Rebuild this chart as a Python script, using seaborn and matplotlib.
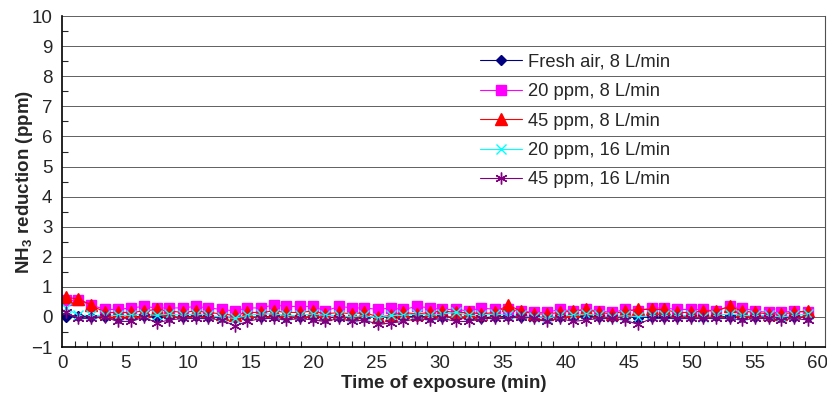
import numpy as np
import pandas as pd
import seaborn as sns
import matplotlib.pyplot as plt
from matplotlib.ticker import MultipleLocator

# время (мин) и снижение NH3 (ppm) для пяти режимов
time_min = [0.3, 1.3, 2.3, 3.4, 4.4, 5.5, 6.5, 7.5, 8.5, 9.6, 10.6, 11.6, 12.7, 13.7, 14.7,
            15.8, 16.8, 17.8, 18.9, 19.9, 20.9, 22.0, 23.0, 24.0, 25.1, 26.1, 27.1, 28.2,
            29.2, 30.2, 31.3, 32.3, 33.3, 34.4, 35.4, 36.4, 37.5, 38.5, 39.5, 40.6, 41.6,
            42.6, 43.7, 44.7, 45.7, 46.8, 47.8, 48.8, 49.9, 50.9, 51.9, 53.0, 54.0, 55.0,
            56.1, 57.1, 58.1, 59.2]

fresh_air_8 = [0.0, 0.02, 0.0, 0.0, -0.02, 0.0, 0.02, 0.0, 0.0, 0.0, 0.02, 0.0, 0.0, -0.02, 0.0,
               0.0, 0.02, 0.0, 0.0, 0.0, -0.02, 0.0, 0.0, 0.0, -0.02, 0.0, 0.0, 0.02, 0.0, 0.0,
               0.0, 0.0, -0.02, 0.0, 0.02, 0.0, 0.0, -0.02, 0.0, 0.0, 0.02, 0.0, 0.0, 0.0,
               -0.02, 0.0, 0.0, 0.0, 0.0, 0.0, 0.02, 0.0, 0.0, 0.0, 0.0, 0.0, 0.0, 0.0]
ppm20_8 = [0.55, 0.55, 0.4, 0.25, 0.25, 0.3, 0.35, 0.3, 0.3, 0.3, 0.35, 0.3, 0.25, 0.2, 0.3,
           0.3, 0.4, 0.35, 0.35, 0.35, 0.2, 0.35, 0.3, 0.3, 0.25, 0.3, 0.25, 0.35, 0.3, 0.25,
           0.25, 0.2, 0.3, 0.25, 0.25, 0.2, 0.15, 0.15, 0.25, 0.2, 0.25, 0.2, 0.15, 0.25, 0.2,
           0.3, 0.3, 0.25, 0.25, 0.25, 0.2, 0.35, 0.3, 0.2, 0.15, 0.15, 0.2, 0.15]
ppm45_8 = [0.65, 0.6, 0.4, 0.15, 0.15, 0.15, 0.2, 0.25, 0.2, 0.15, 0.2, 0.15, 0.1, 0.05, 0.15,
           0.15, 0.2, 0.15, 0.15, 0.2, 0.1, 0.15, 0.1, 0.15, 0.0, 0.05, 0.15, 0.1, 0.15, 0.2,
           0.15, 0.15, 0.1, 0.15, 0.4, 0.2, 0.1, 0.1, 0.15, 0.2, 0.25, 0.15, 0.1, 0.2, 0.25,
           0.25, 0.25, 0.15, 0.15, 0.2, 0.2, 0.35, 0.2, 0.15, 0.1, 0.1, 0.15, 0.2]
ppm20_16 = [0.3, 0.05, 0.05, 0.05, 0.05, 0.05, 0.1, 0.05, 0.1, 0.05, 0.1, 0.05, 0.0, -0.05, 0.05,
            0.1, 0.1, 0.05, 0.05, 0.1, 0.05, 0.05, 0.0, 0.05, -0.05, 0.05, 0.05, 0.1, 0.05, 0.1,
            0.15, 0.05, 0.05, 0.1, 0.05, 0.05, 0.0, -0.05, 0.05, 0.05, 0.1, 0.05, 0.0, 0.05, 0.0,
            0.05, 0.05, 0.05, 0.05, 0.0, 0.05, 0.1, 0.05, 0.05, 0.05, 0.0, 0.05, 0.1]
ppm45_16 = [0.15, -0.05, -0.05, 0.0, -0.15, -0.15, 0.0, -0.2, -0.1, -0.05, -0.05, -0.05, -0.1,
            -0.3, -0.15, -0.05, -0.05, -0.1, -0.05, -0.1, -0.15, -0.05, -0.15, -0.1, -0.25, -0.2,
            -0.15, -0.05, -0.1, -0.05, -0.15, -0.15, -0.05, -0.05, -0.05, 0.0, -0.05, -0.15,
            -0.05, -0.15, -0.1, -0.05, -0.05, -0.1, -0.25, -0.05, -0.05, -0.05, -0.05, -0.05,
            -0.05, -0.05, -0.1, -0.05, -0.05, -0.1, -0.05, -0.1]

labels = ['Fresh air, 8 L/min', '20 ppm, 8 L/min', '45 ppm, 8 L/min',
          '20 ppm, 16 L/min', '45 ppm, 16 L/min']
series = [fresh_air_8, ppm20_8, ppm45_8, ppm20_16, ppm45_16]
colors = ['#000080', '#ff00ff', '#ff0000', '#00ffff', '#800080']
markers = ['D', 's', '^', 'x', (6, 2, 0)]
msizes = [5.5, 7, 8, 7, 8.5]

sns.set_style('white')
plt.rcParams['font.family'] = ['Liberation Sans', 'DejaVu Sans']
plt.rcParams['mathtext.fontset'] = 'custom'
plt.rcParams['mathtext.rm'] = 'Liberation Sans'
plt.rcParams['mathtext.bf'] = 'Liberation Sans:bold'

fig = plt.figure(figsize=(8.28, 4.04), dpi=100)
ax = fig.add_axes([0.075, 0.141, 0.921, 0.819])

for yy in range(0, 11):
    ax.axhline(yy, color='#606060', lw=0.7, zorder=0)

for name, vals, c, m, ms in zip(labels, series, colors, markers, msizes):
    df = pd.DataFrame({'t': time_min, 'v': vals})
    sns.lineplot(data=df, x='t', y='v', ax=ax, color=c, marker=m, markersize=ms,
                 markeredgecolor=c, markeredgewidth=1.0, linewidth=0.8, label=name)

ax.set_xlim(0, 60.55)
ax.set_ylim(-1, 10)
ax.xaxis.set_major_locator(MultipleLocator(5))
ax.xaxis.set_minor_locator(MultipleLocator(1))
ax.yaxis.set_major_locator(MultipleLocator(1))
ax.yaxis.set_minor_locator(MultipleLocator(0.5))
ax.tick_params(axis='x', which='major', direction='in', length=6, width=0.8, labelsize=13.5, pad=6)
ax.tick_params(axis='x', which='minor', direction='in', length=4, width=0.8, bottom=True)
ax.tick_params(axis='y', which='major', direction='out', length=4, width=0.8, labelsize=13.5, pad=3)
ax.tick_params(axis='y', which='minor', direction='in', length=4, width=0.8, left=True)
ax.set_xticks(range(0, 61, 5))

for s in ['left', 'bottom']:
    ax.spines[s].set_color('black')
    ax.spines[s].set_linewidth(1.2)
ax.spines['top'].set_visible(False)
ax.spines['right'].set_color('#505050')
ax.spines['right'].set_linewidth(0.8)

ax.set_xlabel('Time of exposure (min)', fontsize=13.5, fontweight='bold', labelpad=2)
ax.set_ylabel(r'NH$_\mathbf{3}$ reduction (ppm)', fontsize=13.5, fontweight='bold')
ax.yaxis.set_label_coords(-0.035, 0.5)

ax.legend(loc='upper left', bbox_to_anchor=(0.539, 0.909), frameon=False, fontsize=13.2,
          handlelength=2.25, labelspacing=0.68, handletextpad=0.33, borderaxespad=0)

fig.savefig('out.png', dpi=100)
